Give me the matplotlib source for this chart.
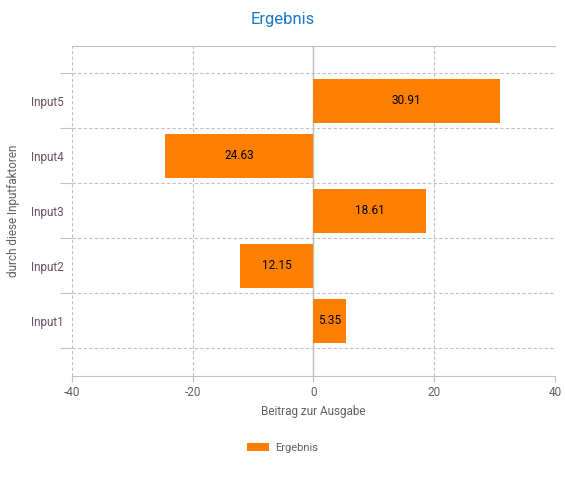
import matplotlib.pyplot as plt
from matplotlib.ticker import FixedLocator
import numpy as np

# Daten aus dem Diagramm
kategorien = ["Input1", "Input2", "Input3", "Input4", "Input5"]
werte = [5.35, -12.15, 18.61, -24.63, 30.91]
x_ticks = [-40, -20, 0, 20, 40]

orange = "#ff8000"
grau = "#c0c0c0"
text_grau = "#606060"

plt.rcParams['font.family'] = ['Roboto', 'DejaVu Sans']
plt.rcParams['axes.unicode_minus'] = False

fig = plt.figure(figsize=(5.65, 4.78), dpi=100)
ax = fig.add_axes([0.1274, 0.2134, 0.8549, 0.6904])

y = np.arange(1, len(kategorien) + 1)
balken = ax.barh(y, werte, height=0.8, color=orange, label="Ergebnis", zorder=3)

# Beschriftung in den Balken (Betrag)
for b, w in zip(balken, werte):
    ax.text(b.get_x() + b.get_width() / 2, b.get_y() + b.get_height() / 2,
            f"{abs(w):.2f}", ha="center", va="center", fontsize=8.5,
            color="black", zorder=4)

ax.set_xlim(-40, 40)
ax.set_ylim(0, 6)
ax.set_xticks(x_ticks)
ax.set_yticks(y)
ax.set_yticklabels(kategorien)
ax.yaxis.set_minor_locator(FixedLocator(np.arange(0.5, 6, 1.0)))

# Gitter
ax.grid(axis="x", which="major", color=grau, linestyle=(0, (3, 2)), linewidth=0.8, zorder=0)
ax.grid(axis="y", which="minor", color=grau, linestyle=(0, (3, 2)), linewidth=0.8, zorder=0)
ax.axvline(0, color=grau, linewidth=1.0, zorder=2)

ax.tick_params(axis="y", which="major", length=0, colors="#6a5060", labelsize=8.5, pad=6)
ax.tick_params(axis="y", which="minor", length=9, color=grau, width=0.8)
ax.tick_params(axis="x", which="major", length=4, color=grau, colors=text_grau, labelsize=8.5)

for s in ["left", "right"]:
    ax.spines[s].set_visible(False)
ax.spines["top"].set_color(grau)
ax.spines["bottom"].set_color(grau)

ax.set_xlabel("Beitrag zur Ausgabe", color=text_grau, fontsize=8.5, labelpad=4)
ax.set_ylabel("durch diese Inputfaktoren", color=text_grau, fontsize=8.5, labelpad=8)

fig.suptitle("Ergebnis", x=0.5, y=0.975, color="#1a78c8", fontsize=12)

fig.legend(loc="center", bbox_to_anchor=(0.5, 0.063), frameon=False, fontsize=8,
           handlelength=2.0, handleheight=0.8, handletextpad=0.5, labelcolor=text_grau)

fig.savefig("out.png", dpi=100)
